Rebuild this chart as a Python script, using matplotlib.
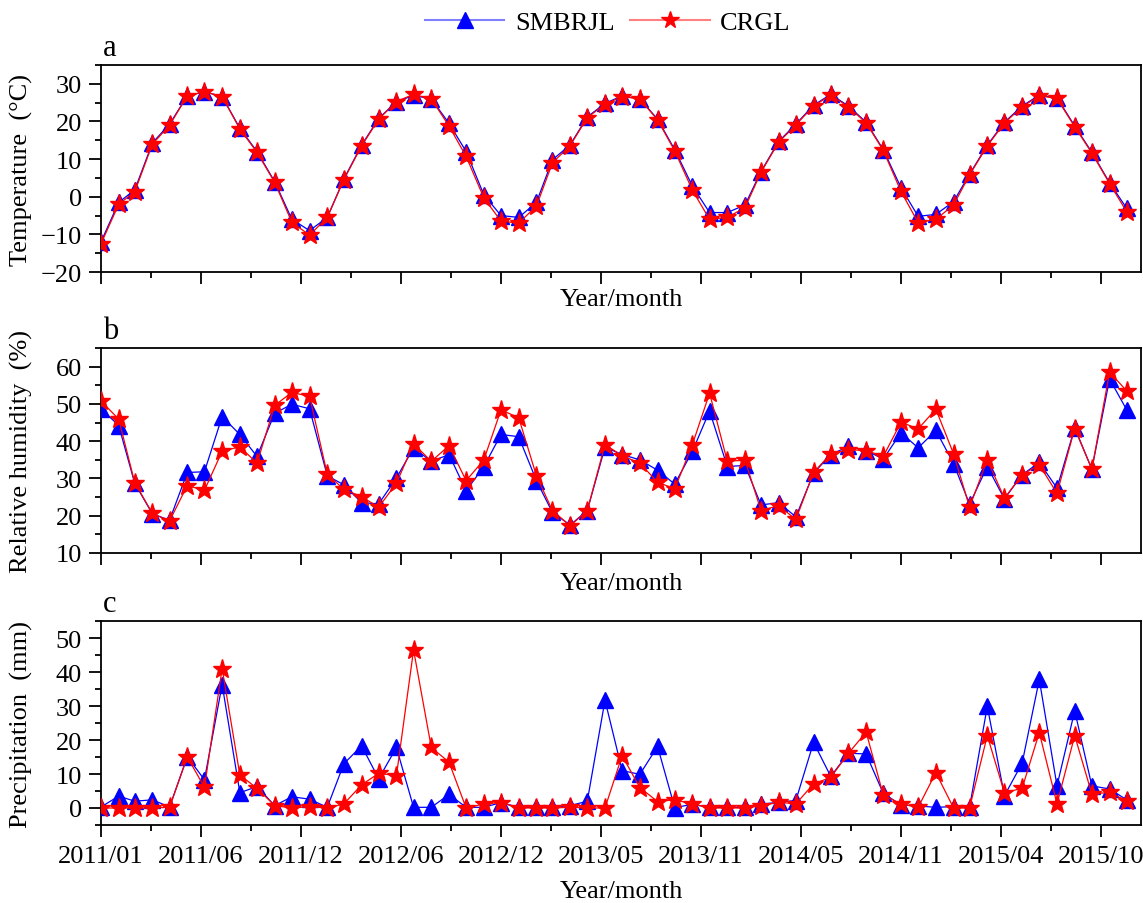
import matplotlib
matplotlib.use("Agg")
import matplotlib.pyplot as plt
import matplotlib.dates as mdates
import numpy as np
import pandas as pd
from matplotlib.ticker import MultipleLocator, FixedLocator, NullFormatter

plt.rcParams['font.family'] = ['Liberation Serif', 'DejaVu Serif']
plt.rcParams['mathtext.fontset'] = 'stix'

months = pd.date_range('2011-01-01', periods=60, freq='MS')

temp_smbrjl = [-12.0, -1.5, 1.8, 14.3, 19.3, 26.8, 27.9, 26.6, 18.2, 12.0,
               4.0, -6.0, -9.0, -5.5, 4.7, 13.7, 20.8, 25.3, 26.9, 26.0,
               19.5, 12.0, 0.5, -5.0, -5.5, -1.5, 9.8, 13.8, 21.2, 24.8,
               26.8, 26.0, 20.6, 12.5, 2.8, -4.2, -4.2, -2.2, 6.7, 14.7,
               19.3, 24.3, 27.2, 24.1, 19.8, 12.5, 2.4, -5.2, -4.7, -1.3,
               6.0, 13.7, 19.8, 24.1, 27.0, 26.3, 18.8, 11.8, 3.7, -3.1]
temp_crgl = [-12.5, -2.0, 1.3, 14.0, 19.0, 26.8, 27.9, 26.6, 18.0, 11.8,
             3.8, -6.8, -10.2, -5.5, 4.5, 13.5, 20.6, 25.3, 27.2, 26.0,
             18.8, 10.7, -0.3, -6.5, -7.0, -2.5, 9.0, 13.6, 21.0, 24.6,
             26.6, 26.0, 20.4, 12.2, 1.7, -6.0, -5.5, -2.9, 6.5, 14.5,
             19.1, 24.1, 27.0, 23.9, 19.6, 12.3, 1.4, -6.9, -6.0, -2.2,
             5.8, 13.5, 19.6, 23.9, 26.8, 26.1, 18.6, 11.6, 3.5, -4.0]

rh_smbrjl = [48.7, 44.2, 28.7, 20.5, 18.8, 31.6, 31.8, 46.6, 41.8, 35.9,
             47.5, 49.9, 48.7, 30.7, 28.3, 23.5, 23.2, 30.1, 38.2, 34.6,
             36.4, 26.7, 33.2, 41.8, 41.2, 29.4, 20.9, 17.5, 21.4, 38.4,
             36.4, 35.0, 32.2, 28.5, 37.3, 48.1, 33.2, 33.5, 22.9, 23.5,
             19.7, 31.4, 36.4, 38.6, 37.5, 35.2, 42.3, 38.2, 42.9, 34.0,
             23.1, 33.2, 24.5, 31.0, 34.3, 27.4, 43.6, 32.5, 56.7, 48.4]
rh_crgl = [50.8, 45.9, 28.9, 20.6, 18.6, 28.1, 26.8, 37.3, 38.5, 34.1,
           49.6, 53.1, 52.0, 31.1, 27.1, 25.1, 22.3, 28.7, 39.3, 34.6,
           38.8, 29.4, 35.0, 48.4, 46.3, 30.7, 21.4, 17.3, 21.4, 39.1,
           36.1, 34.1, 29.0, 27.2, 39.1, 52.9, 34.6, 34.9, 21.4, 22.7,
           19.0, 31.6, 36.6, 37.7, 37.5, 35.9, 45.1, 43.3, 48.6, 36.6,
           22.3, 35.0, 24.7, 31.0, 33.7, 26.0, 43.4, 32.5, 58.5, 53.5]

pr_smbrjl = [0.3, 3.5, 2.0, 2.4, 0.3, 15.1, 8.3, 36.3, 4.5, 6.3,
             0.7, 3.3, 2.6, 0.2, 13.0, 18.3, 8.6, 17.8, 0.2, 0.2,
             4.0, 0.2, 0.2, 1.6, 0.2, 0.2, 0.2, 0.7, 2.0, 31.7,
             11.0, 9.9, 18.1, 0.1, 1.1, 0.2, 0.2, 0.2, 1.1, 1.7,
             2.2, 19.3, 9.3, 16.1, 15.9, 4.3, 0.9, 0.6, 0.2, 0.4,
             0.2, 29.9, 3.6, 13.2, 37.8, 6.5, 28.6, 6.5, 5.6, 2.4]
pr_crgl = [0.0, 0.0, 0.0, 0.0, 0.2, 15.0, 6.1, 41.0, 9.7, 5.8,
           0.7, 0.0, 0.4, 0.0, 1.2, 6.8, 10.2, 9.5, 46.5, 17.8,
           13.5, 0.0, 1.2, 1.6, 0.0, 0.0, 0.0, 0.2, 0.0, 0.0,
           15.4, 6.0, 1.9, 2.4, 1.2, 0.0, 0.0, 0.0, 0.6, 1.7,
           1.2, 7.1, 9.0, 16.1, 22.3, 3.8, 1.2, 0.2, 10.4, 0.0,
           0.0, 21.3, 4.5, 5.8, 22.2, 1.2, 21.3, 4.1, 4.6, 2.1]

tick_labels = ['2011/01', '2011/06', '2011/12', '2012/06', '2012/12', '2013/05',
               '2013/11', '2014/05', '2014/11', '2015/04', '2015/10']
series_names = ['SMBRJL', 'CRGL']

W, H = 1143, 904
fig = plt.figure(figsize=(W / 100, H / 100), dpi=100)

left, right = 101 / W, 1141 / W
panels = [(66, 273), (349, 554), (622, 826)]
axes = []
for top, bot in panels:
    ax = fig.add_axes([left, 1 - bot / H, right - left, (bot - top) / H])
    axes.append(ax)

start = mdates.date2num(pd.Timestamp('2011-01-01'))
tick_step = 175.0
major_pos = [start + tick_step * k for k in range(len(tick_labels))]
minor_pos = [start + tick_step * (k + 0.5) for k in range(len(tick_labels))]
xmax = start + 1820

data = [(temp_smbrjl, temp_crgl, 'Temperature  (°C)', (-20, 35), 'a'),
        (rh_smbrjl, rh_crgl, 'Relative humidity  (%)', (10, 65), 'b'),
        (pr_smbrjl, pr_crgl, 'Precipitation  (mm)', (-5, 55), 'c')]

FS = 19
for i, (ax, (s1, s2, ylab, ylim, letter)) in enumerate(zip(axes, data)):
    ax.plot(months, s1, color='#0000ff', lw=0.9, marker='^', ms=11,
            mfc='#0000ff', mec='#0000ff', label=series_names[0], zorder=3)
    ax.plot(months, s2, color='#ff0000', lw=0.9, marker='*', ms=14,
            mfc='#ff0000', mec='#ff0000', label=series_names[1], zorder=4)
    ax.set_xlim(start, xmax)
    ax.set_ylim(*ylim)
    ax.xaxis.set_major_locator(FixedLocator(major_pos))
    ax.xaxis.set_minor_locator(FixedLocator(minor_pos))
    ax.yaxis.set_major_locator(MultipleLocator(10))
    ax.yaxis.set_minor_locator(MultipleLocator(5))
    if i == 2:
        ax.set_xticklabels(tick_labels)
    else:
        ax.set_xticklabels([])
    ax.xaxis.set_minor_formatter(NullFormatter())
    ax.tick_params(axis='both', which='major', direction='out', length=8.6, width=1.3,
                   labelsize=FS, top=False, right=False, pad=5)
    ax.tick_params(axis='both', which='minor', direction='out', length=4.3, width=1.3,
                   top=False, right=False)
    ax.tick_params(axis='x', which='major', pad=6)
    for sp in ax.spines.values():
        sp.set_linewidth(1.3)
    ax.set_ylabel(ylab, fontsize=FS)
    ax.set_xlabel('Year/month', fontsize=FS)
    ax.text(0.002, 1.015, letter, transform=ax.transAxes, fontsize=22,
            ha='left', va='bottom')

axes[0].xaxis.set_label_coords(0.5, -0.075)
axes[1].xaxis.set_label_coords(0.5, -0.095)
axes[2].xaxis.set_label_coords(0.5, -0.27)
for ax in axes:
    ax.yaxis.set_label_coords(-0.065, 0.5)

handles = [plt.Line2D([], [], color='#7f7fff', lw=1.5, marker='^', ms=11,
                      mfc='#0000ff', mec='#0000ff'),
           plt.Line2D([], [], color='#ff8080', lw=1.5, marker='*', ms=13,
                      mfc='#ff0000', mec='#ff0000')]
fig.legend(handles, series_names, loc='center', bbox_to_anchor=(608 / W, 1 - 23 / H),
           ncol=2, frameon=False, fontsize=FS, handlelength=3.0, columnspacing=0.6,
           handletextpad=0.4, borderpad=0)

fig.savefig('out.png', dpi=100)
